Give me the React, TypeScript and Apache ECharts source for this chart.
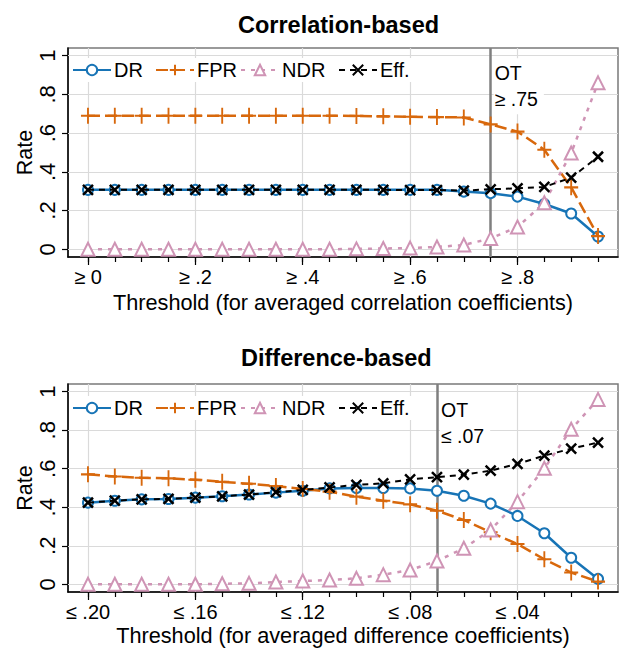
import { useEffect, useRef } from 'react';
import * as echarts from 'echarts';

// ---------- data ----------
const SERIES_NAMES = ['DR', 'FPR', 'NDR', 'Eff.'];

const corrThresholds = [0, 0.05, 0.1, 0.15, 0.2, 0.25, 0.3, 0.35, 0.4, 0.45, 0.5, 0.55, 0.6, 0.65, 0.7, 0.75, 0.8, 0.85, 0.9, 0.95];
const corrDR = [0.307, 0.307, 0.307, 0.307, 0.307, 0.307, 0.307, 0.307, 0.307, 0.307, 0.307, 0.307, 0.307, 0.307, 0.298, 0.29, 0.272, 0.234, 0.185, 0.066];
const corrFPR = [0.69, 0.69, 0.69, 0.69, 0.69, 0.69, 0.69, 0.69, 0.69, 0.69, 0.689, 0.687, 0.685, 0.683, 0.681, 0.645, 0.608, 0.514, 0.32, 0.068];
const corrNDR = [0, 0, 0, 0, 0, 0, 0, 0, 0, 0, 0.002, 0.004, 0.006, 0.012, 0.022, 0.056, 0.115, 0.24, 0.497, 0.86];
const corrEff = [0.307, 0.307, 0.307, 0.307, 0.307, 0.307, 0.307, 0.307, 0.307, 0.307, 0.307, 0.307, 0.306, 0.306, 0.303, 0.31, 0.315, 0.322, 0.37, 0.478];

const diffThresholds = [0.2, 0.19, 0.18, 0.17, 0.16, 0.15, 0.14, 0.13, 0.12, 0.11, 0.1, 0.09, 0.08, 0.07, 0.06, 0.05, 0.04, 0.03, 0.02, 0.01];
const diffDR = [0.424, 0.434, 0.441, 0.443, 0.45, 0.457, 0.466, 0.476, 0.486, 0.498, 0.5, 0.5, 0.498, 0.486, 0.46, 0.419, 0.355, 0.265, 0.138, 0.028];
const diffFPR = [0.571, 0.56, 0.553, 0.55, 0.543, 0.532, 0.522, 0.51, 0.495, 0.481, 0.455, 0.434, 0.415, 0.382, 0.334, 0.27, 0.209, 0.13, 0.061, 0.014];
const diffNDR = [0, 0, 0, 0, 0, 0.003, 0.005, 0.012, 0.017, 0.022, 0.031, 0.05, 0.074, 0.121, 0.187, 0.282, 0.429, 0.602, 0.805, 0.96];
const diffEff = [0.424, 0.434, 0.441, 0.443, 0.45, 0.457, 0.466, 0.478, 0.49, 0.503, 0.516, 0.524, 0.545, 0.556, 0.569, 0.59, 0.625, 0.668, 0.704, 0.736];

const rateTicks = [0, 0.2, 0.4, 0.6, 0.8, 1];
const rateTickLabels = ['0', '.2', '.4', '.6', '.8', '1'];
const corrMajorTicks = [0, 0.2, 0.4, 0.6, 0.8];
const corrTickLabels = ['≥ 0', '≥ .2', '≥ .4', '≥ .6', '≥ .8'];
const diffMajorTicks = [0.2, 0.16, 0.12, 0.08, 0.04];
const diffTickLabels = ['≤ .20', '≤ .16', '≤ .12', '≤ .08', '≤ .04'];

const corrOT = 0.75;
const corrOTLabel = 'OT\n≥ .75';
const diffOT = 0.07;
const diffOTLabel = 'OT\n≤ .07';

const titles = ['Correlation-based', 'Difference-based'];
const xTitles = ['Threshold (for averaged correlation coefficients)', 'Threshold (for averaged difference coefficients)'];
const yTitle = 'Rate';

// ---------- styles ----------
const FONT = '"Liberation Sans", Arial, Helvetica, sans-serif';
const BLUE = '#1774b6';
const ORANGE = '#d8680c';
const PINK = '#cf94b5';
const BLACK = '#000000';
const GRID = '#dadada';

const PLUS = 'path://M0,-1L0,1M-1,0L1,0';
const CROSS = 'path://M-1,-1L1,1M-1,1L1,-1';

const lookup = (vals: number[], labels: string[]) => (v: number) => {
  const i = vals.findIndex((t) => Math.abs(t - v) < 1e-6);
  return i >= 0 ? labels[i] : '';
};

const seriesStyles = [
  { symbol: 'emptyCircle', symbolSize: 10, color: BLUE, width: 2.5, type: 'solid' as any, bw: 2 },
  { symbol: PLUS, symbolSize: [14, 16] as any, color: ORANGE, width: 2.5, type: [12, 5] as any, bw: 2 },
  { symbol: 'emptyTriangle', symbolSize: 13, color: PINK, width: 2.5, type: [4, 6] as any, bw: 2 },
  { symbol: CROSS, symbolSize: 10, color: BLACK, width: 2, type: [6, 5] as any, bw: 2.5 },
];

function buildSeries(gi: number, xs: number[], ys: number[][], ot: number, otLabel: string, otY: number, majors: number[]) {
  const out: any[] = [];
  out.push({
    type: 'line',
    name: 'grid' + gi,
    xAxisIndex: gi * 2,
    yAxisIndex: gi,
    data: [],
    silent: true,
    z: 1,
    markLine: {
      silent: true,
      symbol: 'none',
      z: 1,
      animation: false,
      label: { show: false },
      lineStyle: { color: GRID, width: 1.2, type: 'solid' },
      data: [
        ...rateTicks.map((v) => ({ yAxis: v })),
        ...majors.map((v) => ({ xAxis: v })),
        { xAxis: ot, lineStyle: { color: '#7f7f7f', width: 2.5, type: 'solid' } },
      ],
    },
    markPoint: {
      silent: true,
      animation: false,
      z: 6,
      data: [
        {
          coord: [ot, otY],
          symbol: 'circle',
          symbolSize: 0,
          label: {
            show: true,
            position: 'right',
            distance: 3,
            formatter: otLabel,
            fontFamily: FONT,
            fontSize: 19.5,
            lineHeight: 26,
            color: '#000',
            backgroundColor: '#fff',
            padding: [2, 6, 2, 1],
          },
        },
      ],
    },
  });
  SERIES_NAMES.forEach((name, k) => {
    const s = seriesStyles[k];
    out.push({
      type: 'line',
      name,
      xAxisIndex: gi * 2,
      yAxisIndex: gi,
      data: xs.map((x, i) => [x, ys[k][i]]),
      symbol: s.symbol,
      symbolSize: s.symbolSize,
      showAllSymbol: true,
      lineStyle: { color: s.color, width: s.width, type: s.type },
      itemStyle: { color: s.color, borderColor: s.color, borderWidth: s.bw },
      z: 2 + k,
    });
  });
  return out;
}

function xAxes(gi: number, xs: number[], majors: number[], labels: string[], min: number, max: number, inverse: boolean, nameGap: number) {
  return [
    {
      type: 'value',
      gridIndex: gi,
      min,
      max,
      inverse,
      name: xTitles[gi],
      nameLocation: 'middle',
      nameGap,
      nameMoveOverlap: false,
      nameTextStyle: { fontFamily: FONT, fontSize: 21.7, color: '#000' },
      axisLine: { show: true, onZero: false, lineStyle: { color: '#000', width: 1.5 } },
      axisTick: { show: true, customValues: majors, length: 8, lineStyle: { color: '#000', width: 1.2 } },
      axisLabel: {
        show: true,
        customValues: majors,
        formatter: lookup(majors, labels),
        fontFamily: FONT,
        fontSize: 20,
        color: '#000',
        margin: 10,
      },
      splitLine: { show: false },
    },
    {
      type: 'value',
      gridIndex: gi,
      min,
      max,
      inverse,
      position: 'bottom',
      axisLine: { show: false, onZero: false },
      axisTick: { show: true, customValues: xs, length: 5, lineStyle: { color: '#000', width: 1.2 } },
      axisLabel: { show: false },
      splitLine: { show: false },
    },
  ];
}

function yAxis(gi: number) {
  return {
    type: 'value',
    gridIndex: gi,
    min: -0.04,
    max: 1.04,
    name: yTitle,
    nameLocation: 'middle',
    nameRotate: 90,
    nameGap: 32,
    nameMoveOverlap: false,
    nameTextStyle: { fontFamily: FONT, fontSize: 21.5, color: '#000' },
    axisLine: { show: true, onZero: false, lineStyle: { color: '#000', width: 1.5 } },
    axisTick: { show: true, customValues: rateTicks, length: 6, lineStyle: { color: '#000', width: 1.2 } },
    axisLabel: {
      show: true,
      customValues: rateTicks,
      formatter: lookup(rateTicks, rateTickLabels),
      rotate: 90,
      fontFamily: FONT,
      fontSize: 22,
      color: '#000',
      margin: 5,
      padding: [0, 0, 5, 0],
    },
    splitLine: { show: false },
  };
}

const legendLefts = [69, 152, 237, 335];

function legends(top: number) {
  return SERIES_NAMES.map((name, k) => ({
    data: [name],
    left: legendLefts[k],
    top,
    orient: 'horizontal',
    itemWidth: 38,
    itemHeight: 13,
    itemGap: 0,
    padding: [2, 3, 2, 3],
    backgroundColor: '#fff',
    selectedMode: false,
    z: 4,
    textStyle: { fontFamily: FONT, fontSize: 20, color: '#000', padding: [0, 0, 0, -2] },
  }));
}

export default function App() {
  const ref = useRef<HTMLDivElement>(null);
  useEffect(() => {
    document.body.style.margin = '0';
    if (!ref.current) return;
    const chart = echarts.init(ref.current, undefined, { renderer: 'svg' });
    const option: any = {
      animation: false,
      backgroundColor: '#fff',
      textStyle: { fontFamily: FONT },
      title: [
        { text: titles[0], left: 233, top: 8, textStyle: { fontFamily: FONT, fontSize: 23.5, fontWeight: 'bold', color: '#000' } },
        { text: titles[1], left: 236, top: 341, textStyle: { fontFamily: FONT, fontSize: 23.5, fontWeight: 'bold', color: '#000' } },
      ],
      legend: [...legends(58), ...legends(396)],
      grid: [
        { left: 68, right: 3, top: 48, height: 209, show: true, outerBoundsMode: 'none', containLabel: false, borderColor: '#7a7a7a', borderWidth: 1.5, backgroundColor: '#fff' },
        { left: 68, right: 3, top: 384, height: 208, show: true, outerBoundsMode: 'none', containLabel: false, borderColor: '#7a7a7a', borderWidth: 1.5, backgroundColor: '#fff' },
      ],
      xAxis: [
        ...xAxes(0, corrThresholds, corrMajorTicks, corrTickLabels, -0.0372, 0.9872, false, 34.5),
        ...xAxes(1, diffThresholds, diffMajorTicks, diffTickLabels, 0.00256, 0.20744, true, 32),
      ],
      yAxis: [yAxis(0), yAxis(1)],
      series: [
        ...buildSeries(0, corrThresholds, [corrDR, corrFPR, corrNDR, corrEff], corrOT, corrOTLabel, 0.842, corrMajorTicks),
        ...buildSeries(1, diffThresholds, [diffDR, diffFPR, diffNDR, diffEff], diffOT, diffOTLabel, 0.8375, diffMajorTicks),
      ],
    };
    chart.setOption(option);
    return () => chart.dispose();
  }, []);
  return <div ref={ref} style={{ width: 621, height: 654 }} />;
}
